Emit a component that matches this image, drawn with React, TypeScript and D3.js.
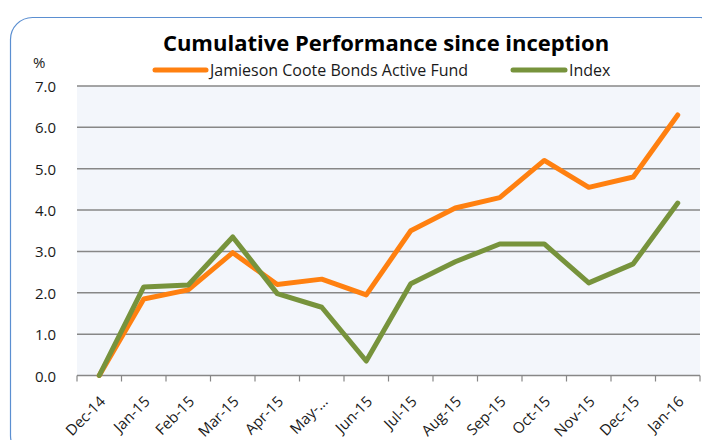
import React from 'react';
import * as d3 from 'd3';

const months = ['Dec-14', 'Jan-15', 'Feb-15', 'Mar-15', 'Apr-15', 'May-15', 'Jun-15', 'Jul-15', 'Aug-15', 'Sep-15', 'Oct-15', 'Nov-15', 'Dec-15', 'Jan-16'];
const monthLabels = ['Dec-14', 'Jan-15', 'Feb-15', 'Mar-15', 'Apr-15', 'May-…', 'Jun-15', 'Jul-15', 'Aug-15', 'Sep-15', 'Oct-15', 'Nov-15', 'Dec-15', 'Jan-16'];
const fund = [0, 1.85, 2.07, 2.97, 2.2, 2.33, 1.95, 3.5, 4.05, 4.3, 5.2, 4.55, 4.8, 6.3];
const index = [0, 2.14, 2.19, 3.35, 1.98, 1.65, 0.35, 2.22, 2.75, 3.18, 3.18, 2.24, 2.7, 4.17];
const yTicks = [0, 1, 2, 3, 4, 5, 6, 7];

const seriesList = [
  { name: 'Jamieson Coote Bonds Active Fund', values: fund, color: '#ff8010' },
  { name: 'Index', values: index, color: '#77933c' },
];

const font = '"Open Sans", "Noto Sans", sans-serif';

export default function App() {
  const width = 702;
  const height = 440;
  const plot = { left: 77, right: 700, top: 86, bottom: 375.5 };

  const x = d3.scaleBand<string>().domain(months).range([plot.left, plot.right]);
  const y = d3.scaleLinear().domain([0, 7]).range([plot.bottom, plot.top]);

  const line = d3
    .line<number>()
    .x((_, i) => (x(months[i]) as number) + x.bandwidth() / 2)
    .y((d) => y(d));

  const tickXs = months.map((m) => x(m) as number).concat([plot.right]);

  return (
    <svg
      width={width}
      height={height}
      style={{ position: 'absolute', left: 0, top: 0, background: '#fff', fontFamily: font }}
    >
      {/* chart frame */}
      <rect x={10.5} y={17.5} width={712} height={440} rx={22} fill="#fff" stroke="#5b8fd1" strokeWidth={1.2} />

      {/* plot background */}
      <rect x={plot.left} y={plot.top} width={plot.right - plot.left} height={plot.bottom - plot.top} fill="#f3f6fb" />

      {/* gridlines */}
      {yTicks.map((t) => (
        <line key={t} x1={plot.left} x2={plot.right} y1={y(t)} y2={y(t)} stroke="#878787" strokeWidth={1.5} />
      ))}

      {/* y labels */}
      {yTicks.map((t) => (
        <text key={t} x={56} y={y(t) + 6} textAnchor="end" fontSize={15} fill="#1a1a1a">
          {t.toFixed(1)}
        </text>
      ))}
      <text x={33} y={68} fontSize={15} fill="#1a1a1a">%</text>

      {/* x axis ticks */}
      {tickXs.map((tx, i) => (
        <line key={i} x1={tx} x2={tx} y1={plot.bottom} y2={plot.bottom + 6} stroke="#878787" strokeWidth={1.2} />
      ))}

      {/* x labels */}
      {monthLabels.map((m, i) => {
        const cx = (x(months[i]) as number) + x.bandwidth() / 2 + 7;
        const cy = plot.bottom + 27;
        return (
          <text key={m} x={cx} y={cy} textAnchor="end" fontSize={15} fill="#1a1a1a" transform={`rotate(-45 ${cx} ${cy})`}>
            {m}
          </text>
        );
      })}

      {/* series */}
      {seriesList.map((s) => (
        <path key={s.name} d={line(s.values) ?? ''} fill="none" stroke={s.color} strokeWidth={5} strokeLinejoin="round" strokeLinecap="round" />
      ))}

      {/* title */}
      <text x={386} y={51} textAnchor="middle" fontSize={22} fontWeight="bold" fill="#000">
        Cumulative Performance since inception
      </text>

      {/* legend */}
      <line x1={155} x2={206} y1={70} y2={70} stroke={seriesList[0].color} strokeWidth={5} strokeLinecap="round" />
      <text x={210} y={76} fontSize={16} fill="#1a1a1a">{seriesList[0].name}</text>
      <line x1={513} x2={565} y1={70} y2={70} stroke={seriesList[1].color} strokeWidth={5} strokeLinecap="round" />
      <text x={569} y={76} fontSize={16} fill="#1a1a1a">{seriesList[1].name}</text>
    </svg>
  );
}
